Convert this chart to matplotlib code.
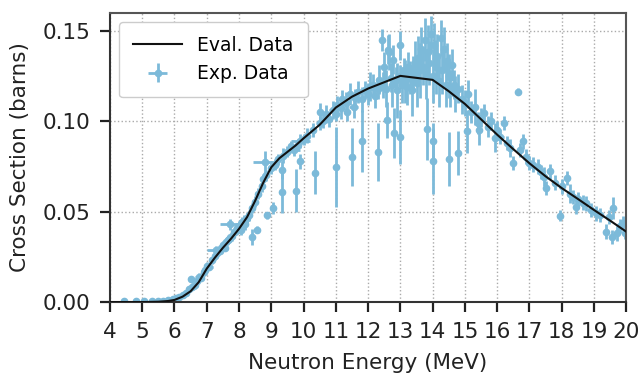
import matplotlib.pyplot as plt

# evaluated cross section curve
eval_e = [4.0, 5.0, 5.5, 5.8, 6.0, 6.25, 6.5, 6.75, 7.0, 7.25, 7.5, 7.75, 8.0, 8.25,
          8.5, 8.75, 9.0, 9.25, 9.5, 9.75, 10.0, 10.5, 11.0, 11.5, 12.0, 12.5, 13.0,
          14.0, 14.5, 15.0, 15.5, 16.0, 16.5, 17.0, 17.5, 18.0, 18.5, 19.0, 19.5, 20.0]
eval_xs = [0.0, 0.0, 0.0002, 0.0006, 0.0012, 0.003, 0.006, 0.011, 0.0185, 0.0245,
           0.030, 0.035, 0.0405, 0.047, 0.056, 0.066, 0.0745, 0.0795, 0.083, 0.0865,
           0.0905, 0.098, 0.1075, 0.1135, 0.118, 0.1215, 0.125, 0.1228, 0.1165,
           0.1095, 0.101, 0.0925, 0.0845, 0.0767, 0.0695, 0.063, 0.057, 0.0509,
           0.045, 0.0389]

# experimental points: energy, cross section, energy error, cross section error
exp_e = [4.45, 4.8, 5.05, 5.3, 5.5, 5.65, 5.8, 5.95,
         6.05, 6.15, 6.25, 6.35, 6.45, 6.5, 6.55, 6.62, 6.7, 6.75, 6.82, 6.9, 6.95,
         7.02, 7.08, 7.15, 7.3, 7.25, 7.32, 7.4, 7.45, 7.5, 7.55, 7.6, 7.65, 7.7,
         7.72, 7.78, 7.85, 7.9, 7.95, 8.0, 8.05, 8.1, 8.15, 8.2, 8.25, 8.3, 8.4,
         8.4, 8.5, 8.55, 8.6, 8.8, 8.7, 8.75, 8.85, 8.88, 9.0, 9.05, 9.1, 9.2,
         9.32, 9.32, 9.35, 9.5, 9.6, 9.78, 9.7, 9.82, 9.9, 9.9, 10.0, 10.1, 10.36,
         10.3, 10.5, 10.5,
         10.6, 10.7, 10.8, 10.9, 11.0, 11.0, 11.05, 11.15, 11.2, 11.3, 11.35, 11.45,
         11.51, 11.55, 11.6, 11.7, 11.8, 11.8, 11.9, 12.0, 12.05, 12.15, 12.2, 12.3,
         12.3, 12.35, 12.44, 12.45, 12.5, 12.55, 12.6, 12.62, 12.65, 12.7, 12.75,
         12.78, 12.8, 12.85, 12.9, 13.0, 13.0, 13.0, 13.05, 13.1, 13.15, 13.2,
         13.25, 13.3, 13.35, 13.4, 13.45, 13.5, 13.55, 13.6, 13.65, 13.7, 13.75,
         13.8, 13.82, 13.85, 13.9, 13.95, 14.0, 14.0, 14.0, 14.05, 14.1, 14.15,
         14.2, 14.25, 14.3, 14.35, 14.4, 14.45, 14.5, 14.51, 14.55, 14.6, 14.65,
         14.7, 14.8, 14.8, 14.9, 15.0, 15.05, 15.1, 15.2, 15.3, 15.4, 15.45, 15.5,
         15.6, 15.7, 15.8, 15.94, 16.0, 16.1, 16.2, 16.3, 16.4, 16.5, 16.64, 16.7,
         16.8, 16.9, 17.0, 17.1, 17.25, 17.35, 17.45, 17.5, 17.65, 17.8, 17.95,
         18.0, 18.15, 18.25, 18.35, 18.45, 18.5, 18.65, 18.76, 18.9, 19.07, 19.2,
         19.38, 19.45, 19.55, 19.6, 19.7, 19.8, 19.9, 19.95]
exp_xs = [0.0006, 0.0004, 0.0005, 0.0004, 0.0006, 0.0008, 0.0010, 0.0016,
          0.0022, 0.0030, 0.0040, 0.0052, 0.0070, 0.0130, 0.0085, 0.0095, 0.0115,
          0.0140, 0.0135, 0.0165, 0.0180, 0.0200, 0.0195, 0.0230, 0.0290, 0.0255,
          0.0270, 0.0285, 0.0300, 0.0315, 0.0300, 0.0330, 0.0345, 0.0350, 0.0430,
          0.0365, 0.0385, 0.0395, 0.0410, 0.0420, 0.0400, 0.0440, 0.0450, 0.0430,
          0.0465, 0.0480, 0.0360, 0.0520, 0.0555, 0.0400, 0.0600, 0.0775, 0.0640,
          0.0680, 0.0700, 0.0480, 0.0740, 0.0520, 0.0760, 0.0790, 0.0730, 0.0610,
          0.0810, 0.0830, 0.0860, 0.0616, 0.0840, 0.0870, 0.0890, 0.0777, 0.0900,
          0.0920, 0.0716, 0.0950, 0.0990, 0.1050,
          0.1000, 0.1040, 0.1010, 0.1060, 0.1040, 0.0745, 0.1090, 0.1070, 0.1120,
          0.1100, 0.1050, 0.1150, 0.0804, 0.1080, 0.1130, 0.1160, 0.0890, 0.1120,
          0.1170, 0.1150, 0.1190, 0.1200, 0.1140, 0.0830, 0.1180, 0.1230, 0.1450,
          0.1200, 0.1300, 0.1180, 0.1005, 0.1395, 0.1380, 0.1240, 0.1200, 0.1340,
          0.0935, 0.1230, 0.1170, 0.1420, 0.0913, 0.1250, 0.1200, 0.1280, 0.1220,
          0.1190, 0.1300, 0.1240, 0.1170, 0.1260, 0.1320, 0.1210, 0.1350, 0.1280,
          0.1400, 0.1300, 0.1450, 0.1260, 0.0956, 0.1380, 0.1320, 0.1480, 0.1250,
          0.0777, 0.0888, 0.1420, 0.1300, 0.1360, 0.1220, 0.1460, 0.1280, 0.1400,
          0.1200, 0.1330, 0.1250, 0.0790, 0.1180, 0.1310, 0.1200, 0.1150, 0.0823,
          0.1180, 0.1120, 0.1100, 0.0943, 0.1150, 0.1050, 0.1080, 0.0990, 0.0950,
          0.1020, 0.1045, 0.0970, 0.1000, 0.0907, 0.0950, 0.0915, 0.0990, 0.0880,
          0.0852, 0.0770, 0.1163, 0.0840, 0.0888, 0.0804, 0.0770, 0.0760, 0.0749,
          0.0720, 0.0694, 0.0630, 0.0722, 0.0660, 0.0478, 0.0640, 0.0685, 0.0600,
          0.0580, 0.0527, 0.0570, 0.0550, 0.0546, 0.0510, 0.0490, 0.0480, 0.0390,
          0.0470, 0.0360, 0.0518, 0.0380, 0.0420, 0.0437, 0.0380]
exp_de = [0, 0, 0, 0, 0, 0, 0, 0,
          0.05, 0, 0.05, 0, 0, 0, 0.05, 0, 0, 0.1, 0, 0, 0.05,
          0, 0.1, 0, 0.3, 0, 0, 0.05, 0, 0, 0, 0.05, 0, 0,
          0.3, 0, 0.05, 0, 0, 0, 0.05, 0, 0, 0, 0.05, 0, 0,
          0, 0, 0, 0.05, 0.38, 0, 0, 0, 0, 0.05, 0, 0, 0,
          0, 0, 0, 0.1, 0, 0, 0.2, 0, 0.3, 0, 0, 0, 0,
          0, 0.1, 0,
          0.1, 0, 0, 0.1, 0, 0, 0, 0, 0.1, 0, 0, 0,
          0, 0.15, 0, 0, 0, 0, 0, 0.1, 0, 0, 0, 0,
          0.2, 0, 0, 0, 0, 0, 0, 0, 0, 0, 0,
          0, 0, 0, 0, 0, 0, 0.1, 0, 0, 0, 0,
          0, 0, 0, 0, 0, 0, 0, 0, 0, 0, 0,
          0, 0, 0, 0, 0, 0, 0, 0, 0, 0, 0,
          0, 0, 0, 0, 0, 0, 0, 0, 0, 0, 0,
          0, 0, 0.1, 0, 0, 0, 0, 0, 0, 0, 0, 0.1,
          0, 0, 0, 0, 0, 0.1, 0, 0, 0, 0, 0, 0,
          0, 0, 0.1, 0, 0, 0, 0, 0, 0, 0, 0.1,
          0, 0, 0, 0, 0, 0, 0, 0, 0, 0, 0,
          0, 0, 0, 0, 0, 0, 0, 0]
exp_dxs = [0.0005, 0.0004, 0.0004, 0.0004, 0.0005, 0.0005, 0.0006, 0.0008,
           0.001, 0.001, 0.0012, 0.0015, 0.0015, 0.0015, 0.002, 0.002, 0.002,
           0.002, 0.002, 0.002, 0.002, 0.002, 0.002, 0.002, 0.002, 0.002, 0.002,
           0.002, 0.002, 0.002, 0.002, 0.0025, 0.0025, 0.0025, 0.003, 0.0025,
           0.0025, 0.0025, 0.0025, 0.003, 0.003, 0.003, 0.003, 0.003, 0.003,
           0.003, 0.0045, 0.003, 0.003, 0.002, 0.003, 0.006, 0.003, 0.003, 0.003,
           0.002, 0.003, 0.0035, 0.003, 0.003, 0.005, 0.012, 0.004, 0.003, 0.003,
           0.012, 0.003, 0.003, 0.004, 0.004, 0.003, 0.004, 0.012, 0.004, 0.004,
           0.005,
           0.004, 0.005, 0.004, 0.005, 0.004, 0.022, 0.005, 0.006, 0.005, 0.006,
           0.005, 0.006, 0.016, 0.006, 0.005, 0.006, 0.017, 0.007, 0.005, 0.006,
           0.008, 0.006, 0.007, 0.016, 0.006, 0.008, 0.006, 0.007, 0.008, 0.010,
           0.010, 0.008, 0.010, 0.008, 0.012, 0.008, 0.014, 0.007, 0.015, 0.008,
           0.015, 0.006, 0.010, 0.007, 0.012, 0.010, 0.008, 0.009, 0.014, 0.010,
           0.012, 0.013, 0.012, 0.015, 0.012, 0.010, 0.012, 0.014, 0.017, 0.015,
           0.012, 0.010, 0.015, 0.018, 0.010, 0.012, 0.015, 0.012, 0.014, 0.010,
           0.013, 0.012, 0.012, 0.010, 0.012, 0.015, 0.010, 0.009, 0.008, 0.010,
           0.012, 0.008, 0.008, 0.007, 0.012, 0.008, 0.006, 0.010, 0.006, 0.008,
           0.005, 0.005, 0.006, 0.005, 0.008, 0.005, 0.004, 0.004, 0.004, 0.005,
           0.004, 0.002, 0.004, 0.004, 0.004, 0.004, 0.004, 0.004, 0.004, 0.005,
           0.004, 0.004, 0.004, 0.003, 0.004, 0.004, 0.005, 0.004, 0.004, 0.004,
           0.004, 0.004, 0.004, 0.004, 0.004, 0.004, 0.004, 0.004, 0.006, 0.004,
           0.004, 0.004, 0.003]

exp_color = '#7cbad9'

fig = plt.figure(figsize=(6.43, 3.8), dpi=100)
ax = fig.add_axes([0.171, 0.205, 0.803, 0.762])

ax.errorbar(exp_e, exp_xs, xerr=exp_de, yerr=exp_dxs, fmt='o', ms=4.5,
            color=exp_color, ecolor=exp_color, elinewidth=2.0, capsize=0,
            label='Exp. Data', zorder=2)
ax.plot(eval_e, eval_xs, color='#111111', lw=1.5, label='Eval. Data', zorder=3)

ax.set_xlim(4, 20)
ax.set_ylim(0, 0.16)
ax.set_xticks(range(4, 21))
ax.set_yticks([0.0, 0.05, 0.10, 0.15])
ax.set_yticklabels(['0.00', '0.05', '0.10', '0.15'])
ax.grid(True, linestyle=':', color='#aaaaaa', lw=1.0)
ax.set_axisbelow(True)

for s in ax.spines.values():
    s.set_color('#333333')
    s.set_linewidth(1.5)
ax.spines['top'].set_color('#555555')
ax.spines['right'].set_color('#555555')
ax.tick_params(axis='both', labelsize=15.5, length=7, width=1.6, color='#222222',
               labelcolor='#222222', pad=7)

ax.set_xlabel('Neutron Energy (MeV)', fontsize=15.5, color='#222222')
ax.set_ylabel('Cross Section (barns)', fontsize=15.5, color='#222222')
ax.xaxis.set_label_coords(0.5, -0.175)
ax.yaxis.set_label_coords(-0.155, 0.5)

ax.legend(loc='upper left', fontsize=13.5, frameon=True, edgecolor='#cccccc',
          framealpha=1.0, borderaxespad=0.5, borderpad=0.75, handlelength=2.6)

fig.savefig('out.png', dpi=100)
